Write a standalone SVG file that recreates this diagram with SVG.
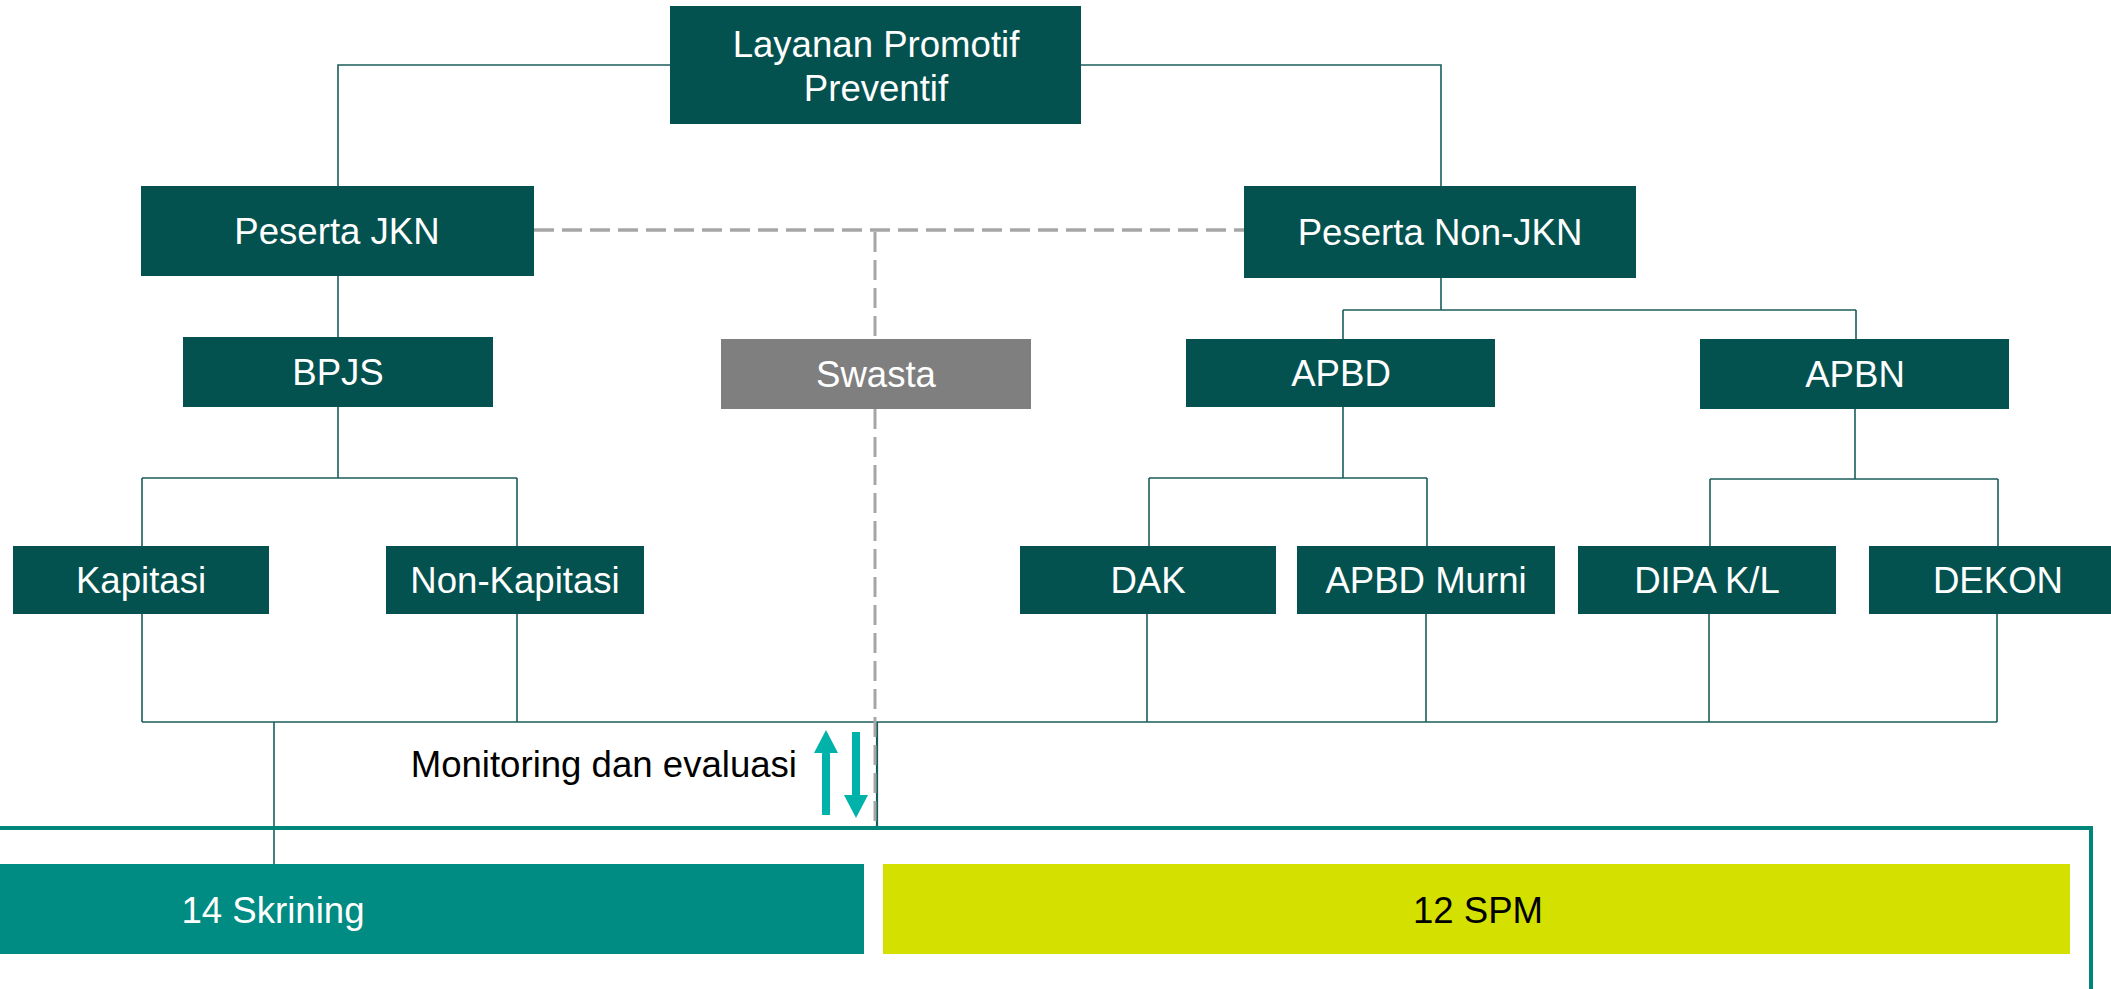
<svg xmlns="http://www.w3.org/2000/svg" width="2111" height="989" viewBox="0 0 2111 989">
<style>
.box{fill:#03524F}
.gray{fill:#7F7F7F}
.t{font-family:"Liberation Sans",Arial,sans-serif;font-size:36.6px;fill:#FFFFFF;text-anchor:middle}
.k{fill:#000000}
.c{fill:none;stroke:#1A5E5C;stroke-width:1.6}
.d{fill:none;stroke:#A6A6A6;stroke-dasharray:20 8}
.arr{fill:#00B2A9}
</style>
<rect width="2111" height="989" fill="#FFFFFF"/>
<g id="connectors">
<path class="c" d="M670,65H338V186"/>
<path class="c" d="M1081,65H1441V186"/>
<path class="c" d="M338,276V337"/>
<path class="c" d="M1441,278V310M1343,310H1856M1343,310V339M1856,310V339"/>
<path class="c" d="M338,407V478M142,478H517M142,478V546M517,478V546"/>
<path class="c" d="M1343,407V478M1149,478H1427M1149,478V546M1427,478V546"/>
<path class="c" d="M1855,409V479M1710,479H1998M1710,479V546M1998,479V546"/>
<path class="c" d="M142,614V722M517,614V722M1147,614V722M1426,614V722M1709,614V722M1997,614V722M142,722H1997"/>
<path class="c" d="M274,722V864"/>
<path class="c" d="M877,722V828" style="stroke-width:2.2"/>
<path d="M0,828H2091V989" fill="none" stroke="#00857A" stroke-width="4"/>
<path class="d" d="M534,230H1244" stroke-width="3.6"/>
<path class="d" d="M875,232V339M875,409V826" stroke-width="3"/>
<g id="monev-arrows">
<rect class="arr" x="822" y="752" width="8" height="63"/>
<polygon class="arr" points="814,753 838,753 826,730"/>
<rect class="arr" x="852" y="732" width="8" height="64"/>
<polygon class="arr" points="844,795 868,795 856,818"/>
</g>
</g>
<g id="layanan"><rect class="box" x="670" y="6" width="411" height="118"/><text class="t" x="876" y="57">Layanan Promotif</text><text class="t" x="876" y="101">Preventif</text></g>
<g id="peserta-jkn"><rect class="box" x="141" y="186" width="393" height="90"/><text class="t" x="337" y="244">Peserta JKN</text></g>
<g id="peserta-non-jkn"><rect class="box" x="1244" y="186" width="392" height="92"/><text class="t" x="1440" y="245">Peserta Non-JKN</text></g>
<g id="bpjs"><rect class="box" x="183" y="337" width="310" height="70"/><text class="t" x="338" y="385">BPJS</text></g>
<g id="swasta"><rect class="gray" x="721" y="339" width="310" height="70"/><text class="t" x="876" y="387">Swasta</text></g>
<g id="apbd"><rect class="box" x="1186" y="339" width="309" height="68"/><text class="t" x="1341" y="386">APBD</text></g>
<g id="apbn"><rect class="box" x="1700" y="339" width="309" height="70"/><text class="t" x="1855" y="387">APBN</text></g>
<g id="kapitasi"><rect class="box" x="13" y="546" width="256" height="68"/><text class="t" x="141" y="593">Kapitasi</text></g>
<g id="non-kapitasi"><rect class="box" x="386" y="546" width="258" height="68"/><text class="t" x="515" y="593">Non-Kapitasi</text></g>
<g id="dak"><rect class="box" x="1020" y="546" width="256" height="68"/><text class="t" x="1148" y="593">DAK</text></g>
<g id="apbd-murni"><rect class="box" x="1297" y="546" width="258" height="68"/><text class="t" x="1426" y="593">APBD Murni</text></g>
<g id="dipa"><rect class="box" x="1578" y="546" width="258" height="68"/><text class="t" x="1707" y="593">DIPA K/L</text></g>
<g id="dekon"><rect class="box" x="1869" y="546" width="258" height="68"/><text class="t" x="1998" y="593">DEKON</text></g>
<g id="monev-label"><text class="t k" x="797" y="777" style="text-anchor:end">Monitoring dan evaluasi</text></g>
<g id="skrining"><rect x="0" y="864" width="864" height="90" fill="#008C82"/><text class="t" x="273" y="923">14 Skrining</text></g>
<g id="spm"><rect x="883" y="864" width="1187" height="90" fill="#D4E000"/><text class="t k" x="1478" y="923">12 SPM</text></g>
</svg>
